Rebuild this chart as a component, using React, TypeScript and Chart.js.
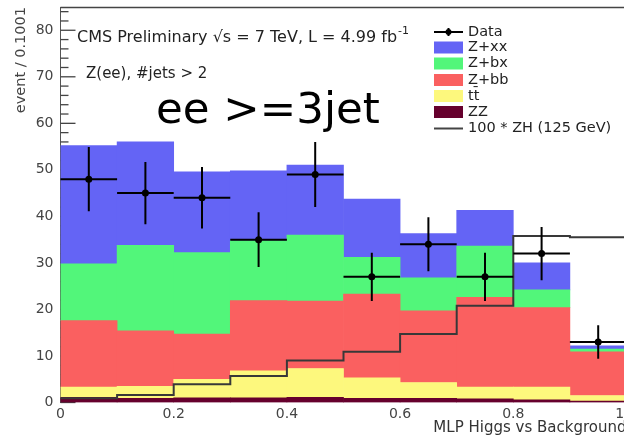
import React, { useEffect, useRef } from 'react';
import { Chart, registerables } from 'chart.js';

Chart.register(...registerables);

// ---- data ----
const binLow = [0, 0.1, 0.2, 0.3, 0.4, 0.5, 0.6, 0.7, 0.8, 0.9];
const binWidth = 0.1;
const zz = [1.1, 0.9, 1.0, 1.0, 1.1, 0.9, 0.9, 0.8, 0.6, 0.3];
const ttbar = [2.2, 2.6, 4.0, 5.8, 6.2, 4.4, 3.4, 2.5, 2.7, 1.2];
const zbb = [14.3, 11.9, 9.7, 15.1, 14.5, 18.0, 15.4, 19.3, 17.1, 9.4];
const zbx = [12.2, 18.4, 17.5, 12.9, 14.2, 7.9, 7.1, 11.0, 3.8, 0.6];
const zxx = [25.4, 22.2, 17.4, 15.0, 15.0, 12.5, 9.5, 7.7, 5.8, 0.7];
const zh100 = [0.9, 1.6, 3.9, 5.7, 9.0, 10.9, 14.7, 20.8, 35.8, 35.5];
const dataVals = [48, 45, 44, 35, 49, 27, 34, 27, 32, 13];
const dataErr = [6.9, 6.7, 6.6, 5.9, 7.0, 5.2, 5.8, 5.2, 5.7, 3.6];
const yMinorStep = 2;

const colors = {
  zxx: 'rgb(100,100,245)',
  zbx: 'rgb(82,246,122)',
  zbb: 'rgb(250,96,96)',
  tt: 'rgb(253,248,125)',
  zz: 'rgb(102,0,45)',
};

const FONT = '"DejaVu Sans", sans-serif';

const legendRows = [
  { label: 'Data', kind: 'data', color: '#000' },
  { label: 'Z+xx', kind: 'box', color: colors.zxx },
  { label: 'Z+bx', kind: 'box', color: colors.zbx },
  { label: 'Z+bb', kind: 'box', color: colors.zbb },
  { label: 'tt\u0304', kind: 'box', color: colors.tt },
  { label: 'ZZ', kind: 'box', color: colors.zz },
  { label: '100 * ZH (125 GeV)', kind: 'line', color: '#444' },
];

function drawFrame(chart: any) {
  const ctx: CanvasRenderingContext2D = chart.ctx;
  const area = chart.chartArea;
  const ys = chart.scales.y;
  ctx.save();
  ctx.strokeStyle = '#444';
  ctx.lineWidth = 1.3;
  const left = area.left;
  // top frame
  ctx.beginPath();
  ctx.moveTo(left, area.top + 0.5);
  ctx.lineTo(area.right, area.top + 0.5);
  ctx.stroke();
  // inward y ticks (major every 10, minor every 2)
  const maxV = ys.max;
  for (let v = 0; v < maxV; v += yMinorStep) {
    const y = ys.getPixelForValue(v);
    const len = v % 10 === 0 ? 15 : 8;
    ctx.beginPath();
    ctx.moveTo(left, y);
    ctx.lineTo(left + len, y);
    ctx.stroke();
  }
  ctx.restore();
}

const decor = {
  id: 'decor',
  beforeDatasetsDraw(chart: any) {
    drawFrame(chart);
  },
  afterDatasetsDraw(chart: any) {
    const { ctx, scales } = chart;
    const xs = scales.x;
    const ys = scales.y;
    ctx.save();
    ctx.strokeStyle = '#000';
    ctx.lineWidth = 2;
    binLow.forEach((lo, i) => {
      const xc = xs.getPixelForValue(lo + binWidth / 2);
      const x0 = xs.getPixelForValue(lo);
      const x1 = xs.getPixelForValue(lo + binWidth);
      const yv = ys.getPixelForValue(dataVals[i]);
      const yl = ys.getPixelForValue(dataVals[i] - dataErr[i]);
      const yh = ys.getPixelForValue(dataVals[i] + dataErr[i]);
      ctx.beginPath();
      ctx.moveTo(x0, yv);
      ctx.lineTo(x1, yv);
      ctx.moveTo(xc, yl);
      ctx.lineTo(xc, yh);
      ctx.stroke();
    });
    ctx.restore();
  },
  afterDraw(chart: any) {
    const { ctx } = chart;
    ctx.save();
    ctx.textBaseline = 'middle';
    ctx.textAlign = 'left';
    ctx.fillStyle = '#222';
    // header text
    ctx.font = `16px ${FONT}`;
    const head = 'CMS Preliminary \u221As = 7 TeV, L = 4.99 fb';
    ctx.fillText(head, 77, 38);
    const w = ctx.measureText(head).width;
    ctx.font = `11px ${FONT}`;
    ctx.fillText('-1', 77 + w + 1, 31);
    ctx.font = `15px ${FONT}`;
    ctx.fillText('Z(ee), #jets > 2', 86, 74);
    // big label
    ctx.fillStyle = '#000';
    ctx.textBaseline = 'alphabetic';
    ctx.font = `43.5px ${FONT}`;
    ctx.fillText('ee >=3jet', 156, 123);
    // legend
    ctx.textBaseline = 'middle';
    const rowY = [32, 47.5, 63.5, 80, 96, 112, 128.5];
    const bx0 = 434;
    const bw = 29;
    legendRows.forEach((row, i) => {
      const y = rowY[i];
      if (row.kind === 'box') {
        ctx.fillStyle = row.color;
        ctx.fillRect(bx0, y - 6, bw, 12);
      } else if (row.kind === 'line') {
        ctx.strokeStyle = row.color;
        ctx.lineWidth = 2;
        ctx.beginPath();
        ctx.moveTo(bx0, y);
        ctx.lineTo(bx0 + bw, y);
        ctx.stroke();
      } else {
        ctx.strokeStyle = '#000';
        ctx.lineWidth = 2;
        ctx.beginPath();
        ctx.moveTo(bx0, y);
        ctx.lineTo(bx0 + bw, y);
        ctx.moveTo(bx0 + bw / 2, y - 4);
        ctx.lineTo(bx0 + bw / 2, y + 4);
        ctx.stroke();
        ctx.fillStyle = '#000';
        ctx.beginPath();
        ctx.arc(bx0 + bw / 2, y, 3, 0, Math.PI * 2);
        ctx.fill();
      }
      ctx.fillStyle = '#222';
      ctx.font = `14.5px ${FONT}`;
      ctx.fillText(row.label, 468, y);
    });
    ctx.restore();
  },
};

export default function App() {
  const ref = useRef<HTMLCanvasElement>(null);
  useEffect(() => {
    const canvas = ref.current!;
    const centers = binLow.map((lo) => lo + binWidth / 2);
    const mk = (vals: number[]) => centers.map((x, i) => ({ x, y: vals[i] }));
    const barDs = (label: string, vals: number[], color: string) => ({
      type: 'bar',
      label,
      data: mk(vals),
      backgroundColor: color,
      borderWidth: 0,
      stack: 'bkg',
      order: 3,
      barPercentage: 1,
      categoryPercentage: 1,
    });
    const zhPts = binLow.map((x, i) => ({ x, y: zh100[i] }));
    zhPts.push({ x: binLow[binLow.length - 1] + binWidth, y: zh100[zh100.length - 1] });

    const chart = new Chart(canvas, {
      type: 'bar',
      data: {
        datasets: [
          barDs('ZZ', zz, colors.zz),
          barDs('tt\u0304', ttbar, colors.tt),
          barDs('Z+bb', zbb, colors.zbb),
          barDs('Z+bx', zbx, colors.zbx),
          barDs('Z+xx', zxx, colors.zxx),
          {
            type: 'line',
            label: '100 * ZH (125 GeV)',
            data: zhPts,
            stepped: 'before',
            borderColor: '#383838',
            borderWidth: 2,
            pointRadius: 0,
            fill: false,
            stack: 'zh',
            order: 2,
          },
          {
            type: 'line',
            label: 'Data',
            data: mk(dataVals),
            showLine: false,
            pointRadius: 3.5,
            pointBackgroundColor: '#000',
            pointBorderWidth: 0,
            borderColor: '#000',
            stack: 'data',
            order: 1,
          },
        ] as any,
      },
      options: {
        responsive: false,
        animation: false,
        devicePixelRatio: 1,
        layout: { padding: { left: 0, top: 7, right: 53.5, bottom: 0 } },
        plugins: { legend: { display: false }, tooltip: { enabled: false } },
        scales: {
          x: {
            type: 'linear',
            min: 0,
            max: 1,
            offset: false,
            stacked: true,
            grid: { display: false, drawTicks: false, offset: false },
            border: { display: false },
            ticks: {
              stepSize: 0.2,
              includeBounds: false,
              padding: 3,
              maxRotation: 0,
              autoSkip: false,
              color: '#444',
              font: { family: FONT, size: 14 },
            },
            title: {
              display: true,
              text: 'MLP Higgs vs Background',
              align: 'end',
              color: '#333',
              font: { family: FONT, size: 15 },
              padding: { top: 0, bottom: 2.5 },
            },
            afterFit: (s: any) => {
              s.height = 37.5;
              s.paddingLeft = 0;
              s.paddingRight = 0;
            },
          },
          y: {
            type: 'linear',
            min: 0,
            max: 85,
            stacked: true,
            grid: { display: false, drawTicks: false },
            border: { display: true, color: '#555', width: 1 },
            ticks: {
              stepSize: 10,
              includeBounds: false,
              padding: 7,
              color: '#444',
              font: { family: FONT, size: 14 },
            },
            title: {
              display: true,
              text: 'event / 0.1001',
              align: 'end',
              color: '#444',
              font: { family: FONT, size: 14.5 },
              padding: { top: 13, bottom: 0 },
            },
            afterFit: (s: any) => {
              s.width = 60.5;
              s.paddingTop = 0;
              s.paddingBottom = 0;
            },
          },
        },
      } as any,
      plugins: [decor],
    });
    return () => chart.destroy();
  }, []);

  return (
    <div
      style={{
        position: 'fixed',
        left: 0,
        top: 0,
        width: 624,
        height: 440,
        overflow: 'hidden',
        background: '#fff',
      }}
    >
      <canvas ref={ref} width={680} height={440} style={{ display: 'block' }} />
    </div>
  );
}
